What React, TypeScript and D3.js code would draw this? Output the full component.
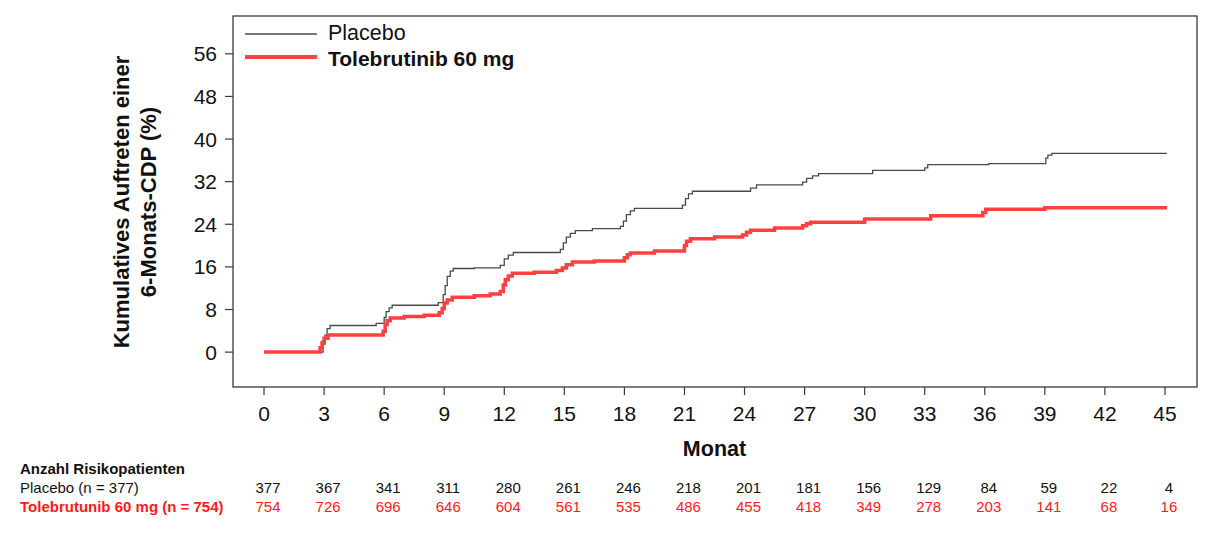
import React, { useEffect, useRef } from "react"
import * as d3 from "d3"

// Kaplan-Meier-artige Treppenkurven: [Monat, kumulativer Anteil %]
const placeboCurve: [number, number][] = [
  [0, 0], [2.95, 1.5], [3.05, 3.2], [3.15, 4.4], [3.3, 5.0], [5.6, 5.4],
  [6.0, 6.5], [6.1, 7.6], [6.25, 8.3], [6.4, 8.8], [8.7, 9.3], [8.95, 10.8],
  [9.05, 12.5], [9.15, 14.2], [9.3, 15.2], [9.45, 15.7], [10.5, 15.8],
  [11.8, 16.3], [12.0, 17.5], [12.2, 18.2], [12.45, 18.7], [14.8, 19.3],
  [14.95, 20.5], [15.1, 21.6], [15.3, 22.3], [15.55, 22.8], [16.4, 23.2],
  [17.8, 23.6], [17.95, 24.6], [18.1, 25.8], [18.3, 26.5], [18.5, 27.0],
  [20.9, 27.6], [21.05, 28.8], [21.2, 29.7], [21.4, 30.2], [24.3, 30.8],
  [24.6, 31.4], [26.9, 31.9], [27.1, 32.6], [27.4, 33.1], [27.7, 33.5],
  [30.4, 34.1], [33.0, 34.6], [33.15, 35.2], [36.2, 35.4], [39.05, 36.4],
  [39.15, 37.0], [39.35, 37.3], [45.1, 37.3]
]

const tolebrutinibCurve: [number, number][] = [
  [0, 0], [2.8, 0.8], [2.9, 1.8], [3.0, 2.6], [3.2, 3.2], [5.95, 3.9],
  [6.05, 5.2], [6.15, 5.9], [6.3, 6.4], [7.0, 6.7], [8.0, 6.9], [8.75, 7.4],
  [8.9, 8.2], [9.0, 9.2], [9.15, 9.8], [9.4, 10.3], [10.5, 10.6],
  [11.3, 10.9], [11.8, 11.4], [11.95, 12.6], [12.05, 13.6], [12.2, 14.3],
  [12.4, 14.8], [13.5, 15.0], [14.6, 15.3], [14.9, 15.8], [15.1, 16.4],
  [15.4, 16.9], [16.5, 17.1], [18.0, 17.7], [18.15, 18.3], [18.3, 18.6],
  [19.5, 19.0], [21.0, 20.0], [21.1, 20.8], [21.3, 21.3], [22.5, 21.6],
  [23.9, 22.0], [24.1, 22.5], [24.3, 22.9], [25.5, 23.3], [26.9, 23.7],
  [27.1, 24.1], [27.3, 24.4], [30.0, 25.0], [33.3, 25.6], [35.9, 26.2],
  [36.05, 26.8], [39.0, 27.1], [45.1, 27.1]
]

const xTicks = [0, 3, 6, 9, 12, 15, 18, 21, 24, 27, 30, 33, 36, 39, 42, 45]
const yTicks = [0, 8, 16, 24, 32, 40, 48, 56]

const placeboAtRisk = [377, 367, 341, 311, 280, 261, 246, 218, 201, 181, 156, 129, 84, 59, 22, 4]
const tolebrutinibAtRisk = [754, 726, 696, 646, 604, 561, 535, 486, 455, 418, 349, 278, 203, 141, 68, 16]

const placeboLabel = "Placebo"
const tolebrutinibLabel = "Tolebrutinib 60 mg"
const placeboRowLabel = "Placebo (n = 377)"
const tolebrutinibRowLabel = "Tolebrutunib 60 mg (n = 754)"

const W = 1209
const H = 539

export default function App() {
  const ref = useRef<SVGSVGElement>(null)

  useEffect(() => {
    const svg = d3.select(ref.current)
    svg.selectAll("*").remove()

    const box = { left: 233, top: 16, right: 1197, bottom: 387 }
    const xScale = d3.scaleLinear().domain([-1.55, 46.6]).range([box.left, box.right])
    const yScale = d3.scaleLinear().domain([-6.55, 63.1]).range([box.bottom, box.top])
    const font = "'Liberation Sans', Arial, sans-serif"

    svg.append("rect")
      .attr("x", box.left)
      .attr("y", box.top)
      .attr("width", box.right - box.left)
      .attr("height", box.bottom - box.top)
      .attr("fill", "none")
      .attr("stroke", "#3a3a3a")
      .attr("stroke-width", 1.3)

    // y-Achse
    const yAxis = svg.append("g")
    yAxis.selectAll("line")
      .data(yTicks)
      .enter()
      .append("line")
      .attr("x1", box.left - 8)
      .attr("x2", box.left)
      .attr("y1", d => yScale(d))
      .attr("y2", d => yScale(d))
      .attr("stroke", "#3a3a3a")
      .attr("stroke-width", 1.2)
    yAxis.selectAll("text")
      .data(yTicks)
      .enter()
      .append("text")
      .attr("x", box.left - 16)
      .attr("y", d => yScale(d))
      .attr("dy", "0.36em")
      .attr("text-anchor", "end")
      .attr("font-family", font)
      .attr("font-size", 21)
      .attr("fill", "#111")
      .text(d => d)

    const yTitle = svg.append("text")
      .attr("transform", "translate(121,202) rotate(-90)")
      .attr("text-anchor", "middle")
      .attr("font-family", font)
      .attr("font-weight", "bold")
      .attr("font-size", 22)
      .attr("fill", "#111")
    yTitle.append("tspan").attr("x", 0).attr("dy", "0.36em").text("Kumulatives Auftreten einer")
    yTitle.append("tspan").attr("x", 0).attr("dy", 27).text("6-Monats-CDP (%)")

    // x-Achse
    const xAxis = svg.append("g")
    xAxis.selectAll("line")
      .data(xTicks)
      .enter()
      .append("line")
      .attr("x1", d => xScale(d))
      .attr("x2", d => xScale(d))
      .attr("y1", box.bottom)
      .attr("y2", box.bottom + 8)
      .attr("stroke", "#3a3a3a")
      .attr("stroke-width", 1.2)
    xAxis.selectAll("text")
      .data(xTicks)
      .enter()
      .append("text")
      .attr("x", d => xScale(d))
      .attr("y", 421)
      .attr("text-anchor", "middle")
      .attr("font-family", "'Liberation Sans Narrow', " + font)
      .attr("font-size", 21)
      .attr("fill", "#111")
      .text(d => d)
    svg.append("text")
      .attr("x", xScale(22.5))
      .attr("y", 456)
      .attr("text-anchor", "middle")
      .attr("font-family", font)
      .attr("font-weight", "bold")
      .attr("font-size", 21.5)
      .attr("fill", "#111")
      .text("Monat")

    // Kurven
    const line = d3.line<[number, number]>()
      .x(d => xScale(d[0]))
      .y(d => yScale(d[1]))
      .curve(d3.curveStepAfter)
    svg.append("path")
      .attr("d", line(placeboCurve))
      .attr("fill", "none")
      .attr("stroke", "#4a4a4a")
      .attr("stroke-width", 1.3)
    svg.append("path")
      .attr("d", line(tolebrutinibCurve))
      .attr("fill", "none")
      .attr("stroke", "#ff4040")
      .attr("stroke-width", 3.5)

    // Legende
    const legend = svg.append("g").attr("font-family", font).attr("font-size", 21).attr("fill", "#111")
    legend.append("line")
      .attr("x1", 245).attr("x2", 317).attr("y1", 34).attr("y2", 34)
      .attr("stroke", "#4a4a4a").attr("stroke-width", 1.3)
    legend.append("text").attr("x", 328).attr("y", 32).attr("dy", "0.36em")
      .attr("font-size", 21.5).text(placeboLabel)
    legend.append("line")
      .attr("x1", 245).attr("x2", 317).attr("y1", 57).attr("y2", 57)
      .attr("stroke", "#ff4040").attr("stroke-width", 4)
    legend.append("text").attr("x", 328).attr("y", 58).attr("dy", "0.36em")
      .attr("font-weight", "bold").text(tolebrutinibLabel)

    // Anzahl Risikopatienten
    const table = svg.append("g").attr("font-family", font).attr("font-size", 15)
    table.append("text").attr("x", 20).attr("y", 474).attr("font-weight", "bold").attr("fill", "#111")
      .text("Anzahl Risikopatienten")
    table.append("text").attr("x", 20).attr("y", 493).attr("fill", "#111").text(placeboRowLabel)
    table.append("text").attr("x", 20).attr("y", 512).attr("font-weight", "bold").attr("fill", "#ff1a1a")
      .text(tolebrutinibRowLabel)
    table.append("g").selectAll("text")
      .data(placeboAtRisk)
      .enter()
      .append("text")
      .attr("x", (d, i) => xScale(xTicks[i]) + 4)
      .attr("y", 493)
      .attr("text-anchor", "middle")
      .attr("fill", "#111")
      .text(d => d)
    table.append("g").selectAll("text")
      .data(tolebrutinibAtRisk)
      .enter()
      .append("text")
      .attr("x", (d, i) => xScale(xTicks[i]) + 4)
      .attr("y", 512)
      .attr("text-anchor", "middle")
      .attr("fill", "#ff1a1a")
      .text(d => d)
  }, [])

  return (
    <div style={{ position: "absolute", left: 0, top: 0, background: "#fff" }}>
      <svg ref={ref} width={W} height={H} />
    </div>
  )
}
